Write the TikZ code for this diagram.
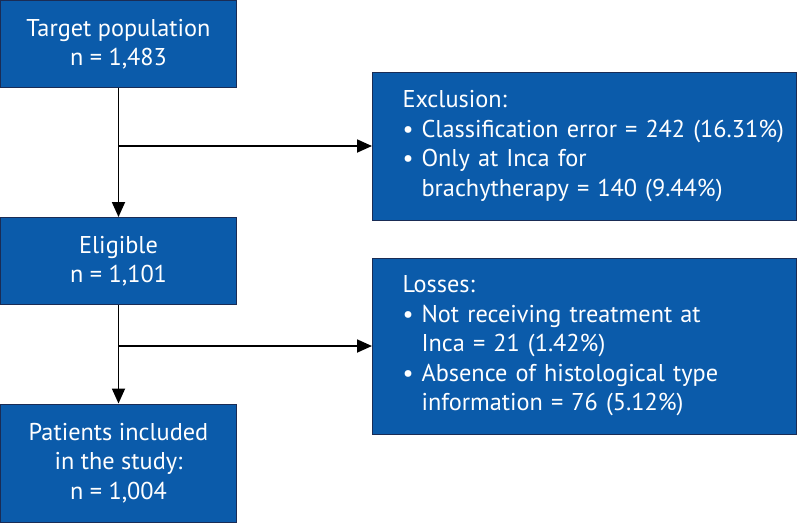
\documentclass[tikz,border=0pt]{standalone}
\usepackage{fontspec}
\setmainfont{PT Sans}
\usetikzlibrary{arrows.meta}
\definecolor{boxblue}{HTML}{0B5BAA}
\definecolor{boxedge}{HTML}{1A2C55}
\hfuzz=100pt
\begin{document}
\begin{tikzpicture}[x=1pt,y=-1pt,
  box/.style={draw=boxedge, line width=1pt, fill=boxblue, text=white, inner sep=0pt,
    font=\fontsize{24.3}{29.5}\selectfont},
  leftbox/.style={box, minimum width=236pt, align=center},
  rightbox/.style={box, minimum width=424pt, text width=364pt, align=left},
  arr/.style={line width=1.8pt, -{Triangle[length=15pt,width=13pt]}}]
\useasboundingbox (0,0) rectangle (798,523);
\node[leftbox, minimum height=87pt] (tp) at (118.5,44) {Target population\\n = 1,483};
\node[leftbox, minimum height=87pt] (el) at (118.5,261) {Eligible\\n = 1,101};
\node[leftbox, minimum height=118pt] (pi) at (118.5,463) {Patients included\\in the study:\\n = 1,004};
\node[rightbox, minimum height=148pt] (ex) at (584.5,146) {Exclusion:\\
\mbox{\textbullet\ Classification error = 242 (16.31\%)}\\
\textbullet\ Only at Inca for\\
\phantom{\textbullet\ }brachytherapy = 140 (9.44\%)};
\node[rightbox, minimum height=176pt] (lo) at (584.5,346) {Losses:\\
\textbullet\ Not receiving treatment at\\
\phantom{\textbullet\ }Inca = 21 (1.42\%)\\
\textbullet\ Absence of histological type\\
\phantom{\textbullet\ }information = 76 (5.12\%)};
\coordinate (j1) at (tp.south |- ex.west);
\coordinate (j2) at (el.south |- lo.west);
\draw[arr] (tp.south) -- (el.north);
\draw[arr] (el.south) -- (pi.north);
\draw[arr] (j1) -- (ex.west);
\draw[arr] (j2) -- (lo.west);
\end{tikzpicture}
\end{document}
